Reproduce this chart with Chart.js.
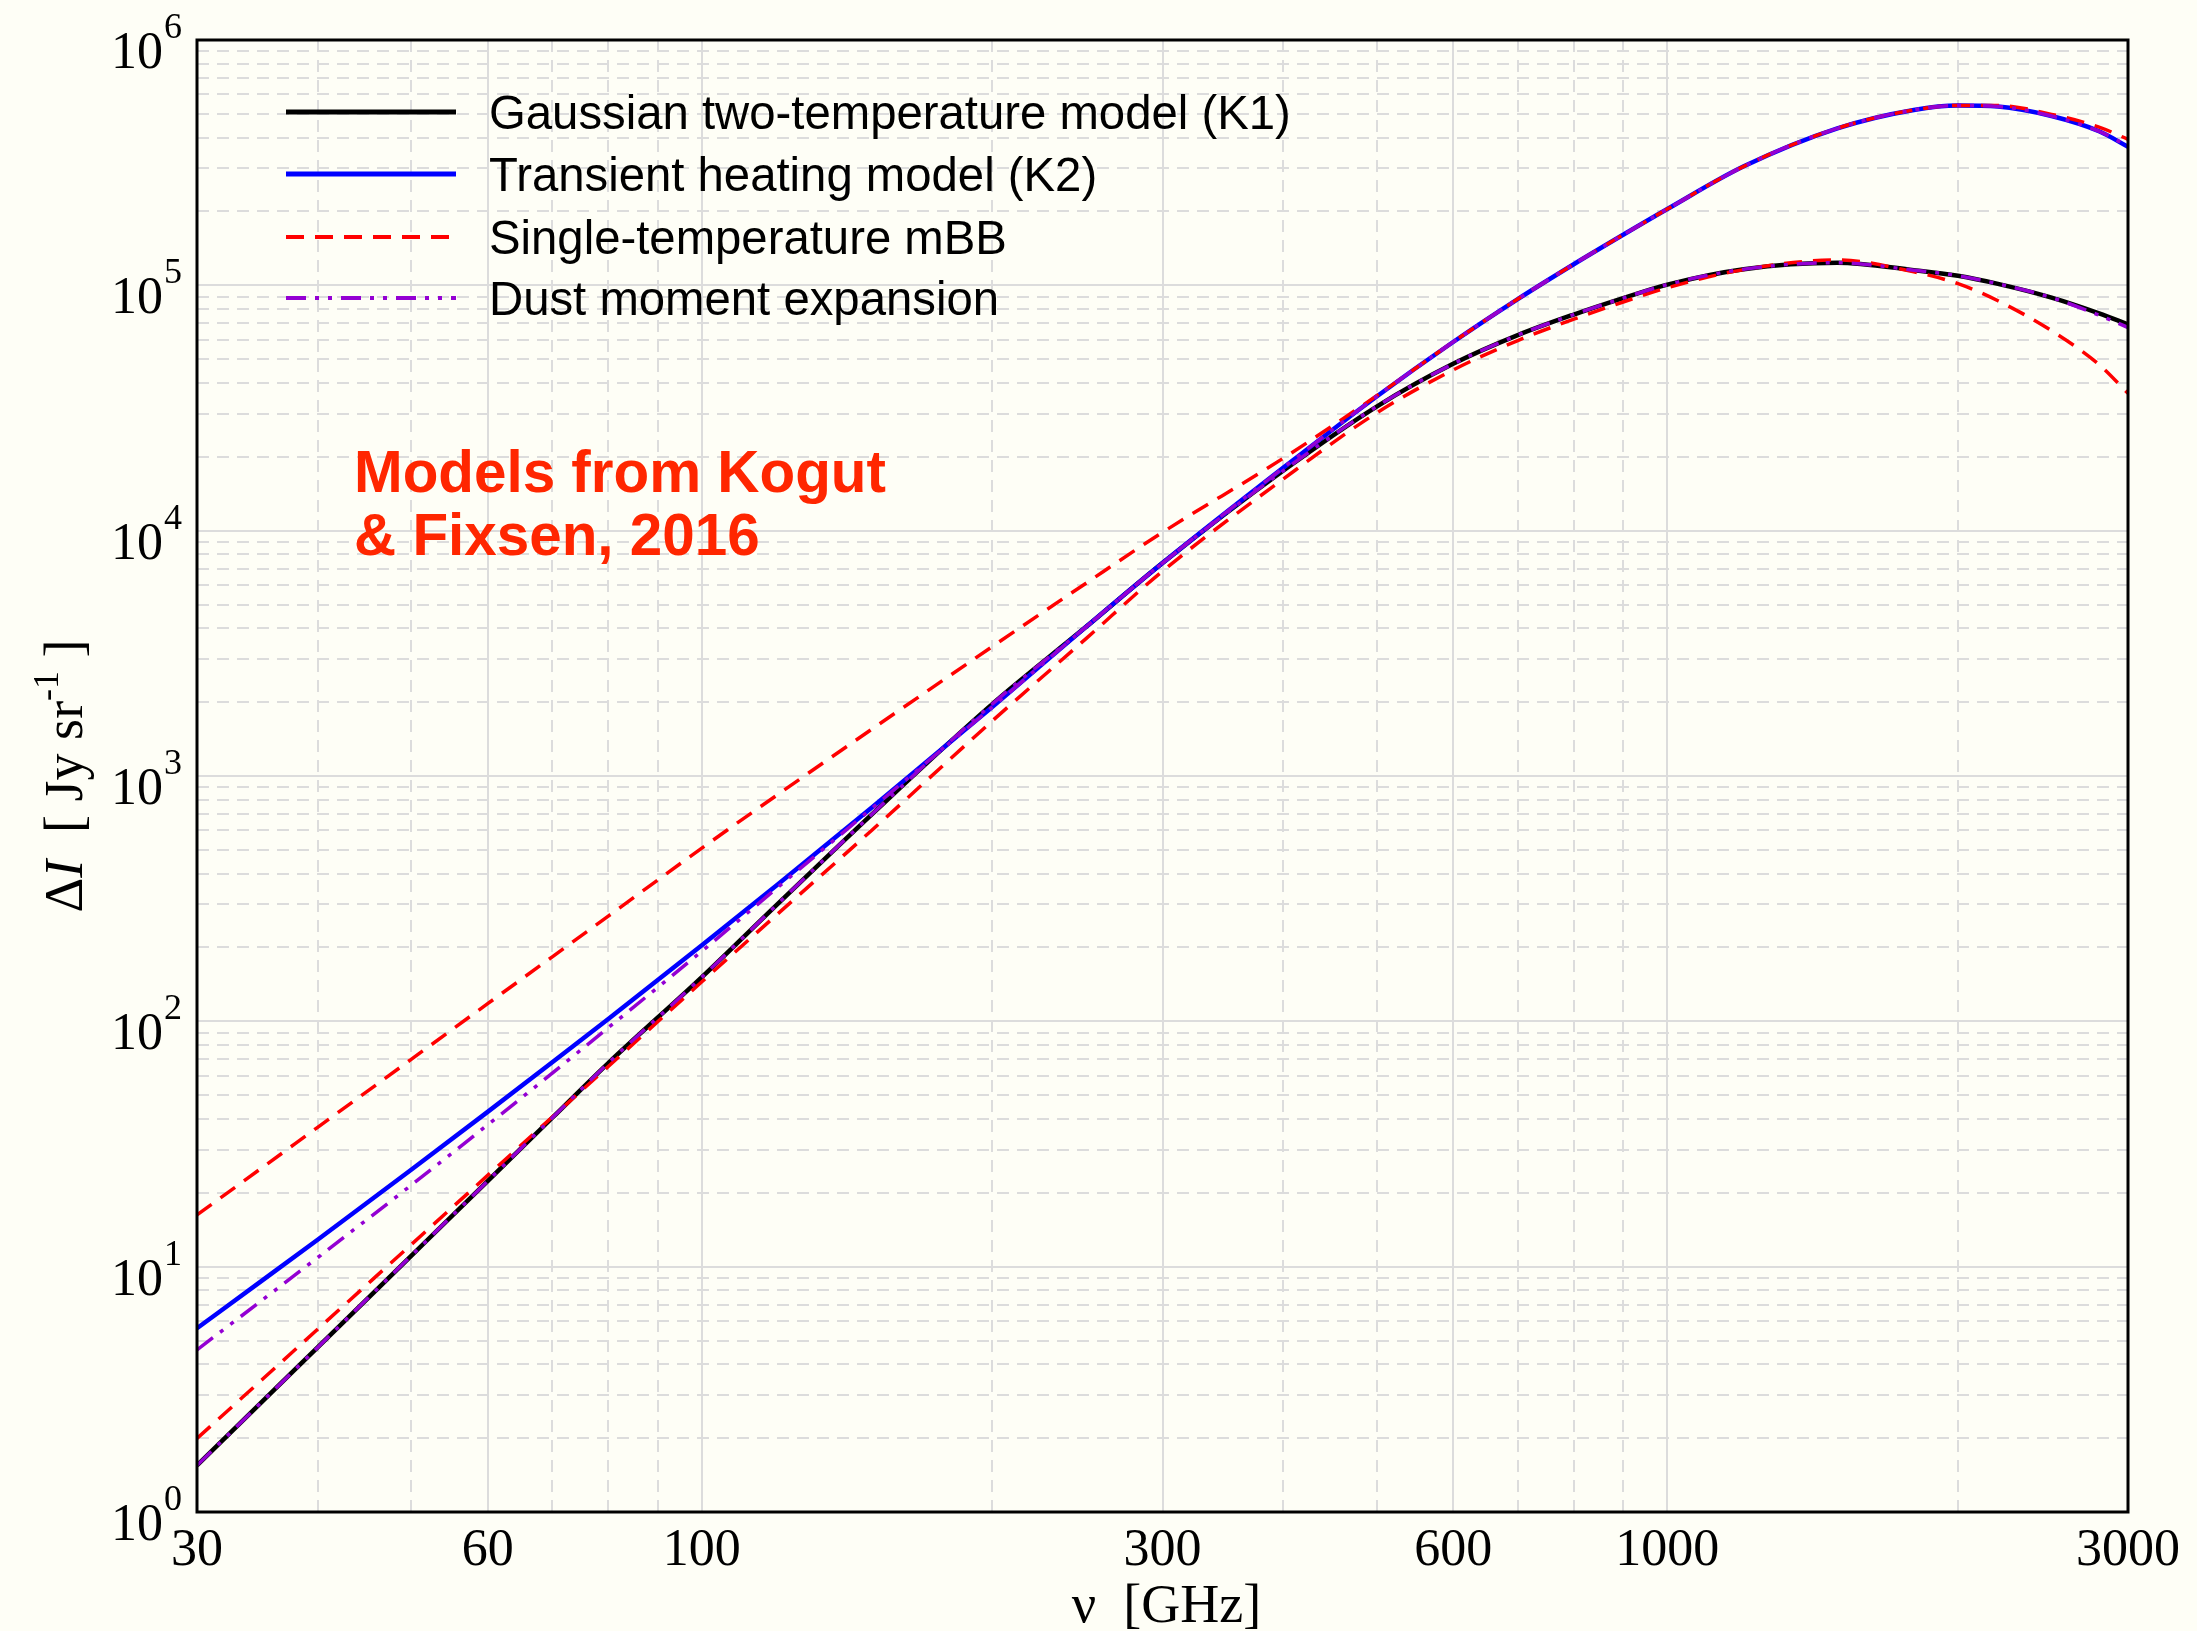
<!DOCTYPE html>
<html>
<head>
<meta charset="utf-8">
<title>Dust SED models</title>
<script src="https://cdn.jsdelivr.net/npm/chart.js@4.4.1/dist/chart.umd.min.js"></script>
<style>
  html, body { margin: 0; padding: 0; background: #fefef6; overflow: hidden; }
  canvas { display: block; }
</style>
</head>
<body>
<canvas id="sed" width="2197" height="1631"></canvas>
<script>
// Frequencies (GHz) at which each model spectrum is tabulated
const frequencies = [30, 35, 40, 50, 60, 70, 80, 100, 120, 150, 200, 250, 300, 400, 500,
  600, 700, 800, 900, 1000, 1200, 1500, 1800, 2000, 2200, 2500, 2800, 3000];

// Gaussian two-temperature model (K1), Jy/sr
const gaussianK1 = [1.549, 2.805, 4.688, 11.07, 22.34, 40.46, 67.61, 151.4, 302.7, 698.2, 1968, 4055, 7379, 17540, 32060,
  47860, 62660, 76030, 88720, 100700, 116400, 123600, 115300, 109400, 101400, 89130, 76910, 69340];

// Transient heating model (K2), Jy/sr
const transientK2 = [5.610, 8.750, 12.88, 24.83, 42.76, 68.08, 102.3, 204.2, 363.1, 744.7, 1914, 4055, 7379, 18030, 35240,
  58750, 87900, 121900, 160700, 204600, 305500, 436500, 518800, 540800, 535800, 489800, 424600, 367300];

// Single-temperature modified blackbody fitted to K1
const mbbK1 = [1.995, 3.451, 5.559, 12.30, 23.55, 40.74, 65.46, 144.9, 275.4, 601.2, 1679, 3631, 6839, 16220, 30200,
  45190, 59570, 72780, 85510, 97720, 115900, 126800, 113500, 101600, 86500, 65310, 47530, 36310];

// Single-temperature modified blackbody fitted to K2
const mbbK2 = [16.26, 25.24, 36.98, 69.98, 118.0, 183.2, 268.5, 508.2, 843.3, 1552, 3373, 6109, 9840, 19720, 35480,
  58750, 87900, 121900, 160700, 204600, 305500, 436500, 518800, 540800, 540800, 497700, 441600, 393600];

// Dust moment expansion fitted to K1
const momentK1 = [1.549, 2.805, 4.688, 11.07, 22.34, 40.46, 67.61, 151.4, 302.7, 698.2, 1968, 4055, 7379, 17540, 32060,
  47860, 62660, 76030, 88720, 100700, 116400, 123600, 115300, 109400, 101400, 89130, 75510, 67300];

// Dust moment expansion fitted to K2
const momentK2 = [4.581, 7.278, 10.89, 21.48, 37.84, 61.52, 94.19, 193.2, 353.2, 737.9, 1914, 4055, 7379, 18030, 35240,
  58750, 87900, 121900, 160700, 204600, 305500, 436500, 518800, 540800, 535800, 489800, 424600, 369000];

// Axis ticks
const xTickLabels = [30, 60, 100, 300, 600, 1000, 3000];
const xMinorTicks = [40, 50, 70, 80, 90, 200, 400, 500, 700, 800, 900, 2000];
const yDecades = [0, 1, 2, 3, 4, 5, 6];

const legendLabels = [
  'Gaussian two-temperature model (K1)',
  'Transient heating model (K2)',
  'Single-temperature mBB',
  'Dust moment expansion'
];
const noteLines = ['Models from Kogut', '& Fixsen, 2016'];

const PAPER = '#fefef6';
const GRID = '#dcdcdc';
const SERIF = '"Liberation Serif", "Times New Roman", serif';
const SANS = '"Liberation Sans", Arial, Helvetica, sans-serif';

const STYLE = {
  k1:  { color: '#000000', width: 4.5, dash: [] },
  k2:  { color: '#0000ff', width: 4.5, dash: [] },
  mbb: { color: '#ff0000', width: 3.5, dash: [18, 11] },
  mom: { color: '#9400d3', width: 3.5, dash: [20, 9, 4, 9, 4, 9] }
};

function series(values) {
  return frequencies.map((f, i) => ({ x: f, y: values[i] }));
}
function lineSet(label, values, st) {
  return {
    label, data: series(values),
    borderColor: st.color, borderWidth: st.width, borderDash: st.dash,
    borderCapStyle: 'butt', fill: false, pointRadius: 0,
    cubicInterpolationMode: 'monotone'
  };
}

// First dataset is painted last (on top)
const datasets = [
  lineSet('Dust moment expansion (K1)', momentK1, STYLE.mom),
  lineSet('Dust moment expansion (K2)', momentK2, STYLE.mom),
  lineSet('Single-temperature mBB (K1)', mbbK1, STYLE.mbb),
  lineSet('Single-temperature mBB (K2)', mbbK2, STYLE.mbb),
  lineSet(legendLabels[1], transientK2, STYLE.k2),
  lineSet(legendLabels[0], gaussianK1, STYLE.k1)
];

const paperPlugin = {
  id: 'paper',
  beforeDraw(chart) {
    const { ctx, width, height } = chart;
    ctx.save();
    ctx.fillStyle = PAPER;
    ctx.fillRect(0, 0, width, height);
    ctx.restore();
  }
};

const gridPlugin = {
  id: 'logGrid',
  beforeDatasetsDraw(chart) {
    const { ctx, chartArea: a, scales: { x, y } } = chart;
    const vline = px => { ctx.beginPath(); ctx.moveTo(px, a.top); ctx.lineTo(px, a.bottom); ctx.stroke(); };
    const hline = py => { ctx.beginPath(); ctx.moveTo(a.left, py); ctx.lineTo(a.right, py); ctx.stroke(); };
    ctx.save();
    ctx.beginPath();
    ctx.rect(a.left, a.top, a.right - a.left, a.bottom - a.top);
    ctx.clip();
    ctx.strokeStyle = GRID;
    ctx.lineWidth = 2;
    // dashed minor lines
    ctx.setLineDash([12, 8]);
    xMinorTicks.forEach(v => vline(Math.round(x.getPixelForValue(v))));
    yDecades.slice(0, -1).forEach(d => {
      for (let k = 2; k <= 9; k++) hline(Math.round(y.getPixelForValue(k * Math.pow(10, d))));
    });
    // solid major lines
    ctx.setLineDash([]);
    xTickLabels.forEach(v => vline(Math.round(x.getPixelForValue(v))));
    yDecades.forEach(d => hline(Math.round(y.getPixelForValue(Math.pow(10, d)))));
    ctx.restore();
  }
};

const framePlugin = {
  id: 'frame',
  afterDatasetsDraw(chart) {
    const { ctx, chartArea: a } = chart;
    ctx.save();
    ctx.strokeStyle = '#000';
    ctx.lineWidth = 3;
    ctx.setLineDash([]);
    ctx.strokeRect(a.left, a.top, a.right - a.left, a.bottom - a.top);
    ctx.restore();
  }
};

const textPlugin = {
  id: 'texts',
  afterDraw(chart) {
    const { ctx, chartArea: a, scales: { x, y } } = chart;
    ctx.save();
    ctx.fillStyle = '#000';
    ctx.textBaseline = 'alphabetic';

    // x tick labels
    ctx.font = '52px ' + SERIF;
    ctx.textAlign = 'center';
    xTickLabels.forEach(v => ctx.fillText(String(v), x.getPixelForValue(v), a.bottom + 53));

    // y tick labels: 10 with superscript exponent
    yDecades.forEach(d => {
      const gy = y.getPixelForValue(Math.pow(10, d));
      const supFont = '36px ' + SERIF, baseFont = '52px ' + SERIF;
      ctx.font = supFont;
      const ew = ctx.measureText(String(d)).width;
      ctx.font = baseFont;
      const bw = ctx.measureText('10').width;
      const right = a.left - 15;
      const x0 = right - ew - bw - 1;
      ctx.textAlign = 'left';
      ctx.fillText('10', x0, gy + 28);
      ctx.font = supFont;
      ctx.fillText(String(d), x0 + bw + 1, gy - 2);
    });

    // x axis title
    ctx.font = '54px ' + SERIF;
    ctx.textAlign = 'center';
    ctx.fillText('\u03bd  [GHz]', (a.left + a.right) / 2 + 4, 1622);

    // y axis title, rotated
    const parts = [
      { t: '\u0394', f: '54px ' + SERIF, dy: 0 },
      { t: 'I', f: 'italic 54px ' + SERIF, dy: 0 },
      { t: '  [ Jy sr', f: '54px ' + SERIF, dy: 0 },
      { t: '-1', f: '36px ' + SERIF, dy: -24 },
      { t: ' ]', f: '54px ' + SERIF, dy: 0 }
    ];
    let total = 0;
    parts.forEach(p => { ctx.font = p.f; p.w = ctx.measureText(p.t).width; total += p.w; });
    ctx.translate(82, (a.top + a.bottom) / 2);
    ctx.rotate(-Math.PI / 2);
    ctx.textAlign = 'left';
    let cx = -total / 2;
    parts.forEach(p => { ctx.font = p.f; ctx.fillText(p.t, cx, p.dy); cx += p.w; });
    ctx.restore();

    // legend
    const items = [STYLE.k1, STYLE.k2, STYLE.mbb, STYLE.mom];
    const rows = [112, 174, 237, 298];
    ctx.save();
    items.forEach((st, i) => {
      ctx.strokeStyle = st.color;
      ctx.lineWidth = st.width + 0.5;
      ctx.setLineDash(st.dash);
      ctx.lineCap = 'butt';
      ctx.beginPath();
      ctx.moveTo(286, rows[i]);
      ctx.lineTo(456, rows[i]);
      ctx.stroke();
      ctx.setLineDash([]);
      ctx.fillStyle = '#000';
      ctx.font = '47.3px ' + SANS;
      ctx.textAlign = 'left';
      ctx.textBaseline = 'alphabetic';
      ctx.fillText(legendLabels[i], 489, rows[i] + 17);
    });

    // annotation
    ctx.fillStyle = '#ff2600';
    ctx.font = 'bold 58.4px ' + SANS;
    ctx.fillText(noteLines[0], 354, 492);
    ctx.fillText(noteLines[1], 354, 555);
    ctx.restore();
  }
};

new Chart(document.getElementById('sed'), {
  type: 'line',
  data: { datasets },
  options: {
    responsive: false,
    animation: false,
    devicePixelRatio: 1,
    layout: { padding: { left: 197, right: 69, top: 40, bottom: 119 } },
    plugins: { legend: { display: false }, tooltip: { enabled: false }, title: { display: false } },
    elements: { point: { radius: 0 } },
    scales: {
      x: {
        type: 'logarithmic', min: 30, max: 3000,
        grid: { display: false }, border: { display: false }, ticks: { display: false },
        afterFit(scale) { scale.height = 0; }
      },
      y: {
        type: 'logarithmic', min: 1, max: 1e6,
        grid: { display: false }, border: { display: false }, ticks: { display: false },
        afterFit(scale) { scale.width = 0; }
      }
    }
  },
  plugins: [paperPlugin, gridPlugin, framePlugin, textPlugin]
});
</script>
</body>
</html>
